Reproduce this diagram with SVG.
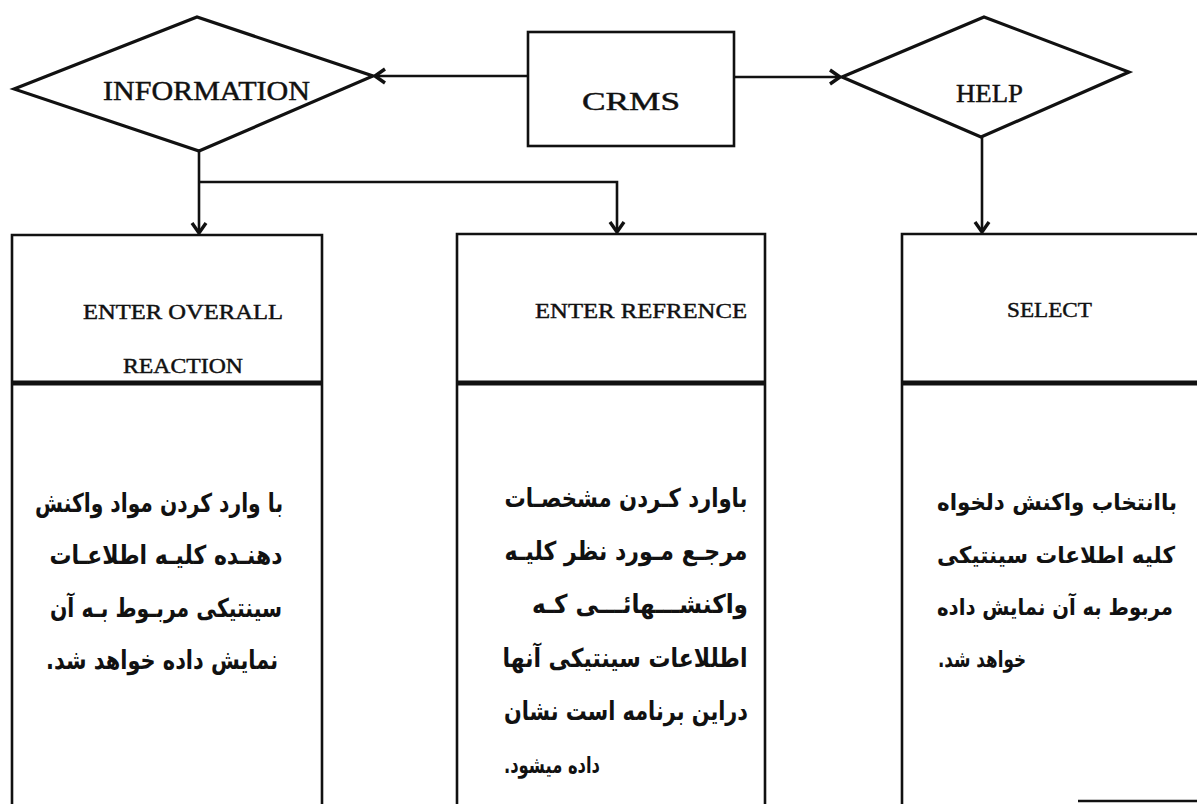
<svg xmlns="http://www.w3.org/2000/svg" width="1197" height="804" viewBox="0 0 1197 804">
<style>
.shape{fill:none;stroke:#111;stroke-width:2.6;stroke-linejoin:miter}
.diam{fill:none;stroke:#111;stroke-width:3.2;stroke-linejoin:miter}
.div{stroke:#111;stroke-width:5}
.conn{fill:none;stroke:#111;stroke-width:2.6}
.en{font-family:"Liberation Serif","DejaVu Serif",serif;fill:#111;stroke:#111;stroke-width:0.45}
.fa{font-family:"DejaVu Sans",sans-serif;font-weight:bold;font-size:26px;fill:#111;direction:rtl;text-anchor:middle}
.fa3{font-family:"DejaVu Sans",sans-serif;font-weight:bold;font-size:23px;fill:#111;direction:rtl;text-anchor:middle}
.fa-left{font-family:"DejaVu Sans",sans-serif;font-weight:bold;font-size:23px;fill:#111;direction:rtl;text-anchor:end}
</style>
<defs>
<marker id="arr" markerUnits="userSpaceOnUse" viewBox="-14 -10 16 20" markerWidth="16" markerHeight="20" refX="0" refY="0" orient="auto">
<path d="M-10,-7 L0,0 L-10,7" fill="none" stroke="#111" stroke-width="3.4"/>
</marker>
</defs>
<rect width="1197" height="804" fill="#fff"/>

<g id="connectors">
<line class="conn" x1="528" y1="76" x2="375" y2="76" marker-end="url(#arr)"/>
<line class="conn" x1="734" y1="77" x2="840" y2="77" marker-end="url(#arr)"/>
<line class="conn" x1="199" y1="151" x2="199" y2="233" marker-end="url(#arr)"/>
<polyline class="conn" points="199,182 617,182 617,232" marker-end="url(#arr)"/>
<line class="conn" x1="982" y1="137" x2="982" y2="232" marker-end="url(#arr)"/>
</g>

<g id="node-information">
<polygon class="diam" points="14,89 197,17 373,76 199,151"/>
<text class="en" x="103" y="100" font-size="27" textLength="207" lengthAdjust="spacingAndGlyphs">INFORMATION</text>
</g>

<g id="node-crms">
<rect class="shape" x="528" y="32" width="206" height="114"/>
<text class="en" x="582" y="110" font-size="26" textLength="98" lengthAdjust="spacingAndGlyphs">CRMS</text>
</g>

<g id="node-help">
<polygon class="diam" points="842,77 984,17 1129,72 981,137"/>
<text class="en" x="956" y="102" font-size="26" textLength="67" lengthAdjust="spacingAndGlyphs">HELP</text>
</g>

<g id="node-enter-overall">
<polyline class="shape" points="12,804 12,235 322,235 322,804"/>
<line class="div" x1="12" y1="383" x2="322" y2="383"/>
<text class="en" x="83" y="319" font-size="21" textLength="200" lengthAdjust="spacingAndGlyphs">ENTER OVERALL</text>
<text class="en" x="123" y="373" font-size="21" textLength="120" lengthAdjust="spacingAndGlyphs">REACTION</text>
<text class="fa" x="159" y="512" textLength="248" lengthAdjust="spacingAndGlyphs">با وارد کردن مواد واکنش</text>
<text class="fa" x="166" y="564" textLength="233" lengthAdjust="spacingAndGlyphs">دهنـده کلیـه اطلاعـات</text>
<text class="fa" x="166" y="617" textLength="232" lengthAdjust="spacingAndGlyphs">سینتیکی مربـوط بـه آن</text>
<text class="fa" x="162" y="669" textLength="232" lengthAdjust="spacingAndGlyphs">نمایش داده خواهد شد.</text>
</g>

<g id="node-enter-refrence">
<polyline class="shape" points="457,804 457,234 765,234 765,804"/>
<line class="div" x1="457" y1="383" x2="765" y2="383"/>
<text class="en" x="535" y="318" font-size="22" textLength="212" lengthAdjust="spacingAndGlyphs">ENTER REFRENCE</text>
<text class="fa" x="626" y="507" textLength="243" lengthAdjust="spacingAndGlyphs">باوارد کـردن مشخصـات</text>
<text class="fa" x="626" y="560" textLength="243" lengthAdjust="spacingAndGlyphs">مرجـع مـورد نظر کلیـه</text>
<text class="fa" x="640" y="613" textLength="216" lengthAdjust="spacingAndGlyphs">واکنشـــهائـــی کـه</text>
<text class="fa" x="625" y="667" textLength="245" lengthAdjust="spacingAndGlyphs">اطللاعات سینتیکی آنها</text>
<text class="fa" x="626" y="720" textLength="244" lengthAdjust="spacingAndGlyphs">دراین برنامه است نشان</text>
<text class="fa-left" x="504" y="773" textLength="96" lengthAdjust="spacingAndGlyphs">داده میشود.</text>
</g>

<g id="node-select">
<polyline class="shape" points="902,804 902,234 1200,234"/>
<line class="div" x1="902" y1="383" x2="1200" y2="383"/>
<line class="shape" x1="1078" y1="801" x2="1197" y2="801"/>
<text class="en" x="1007" y="317" font-size="22" textLength="85" lengthAdjust="spacingAndGlyphs">SELECT</text>
<text class="fa3" x="1057" y="510" textLength="240" lengthAdjust="spacingAndGlyphs">باانتخاب واکنش دلخواه</text>
<text class="fa3" x="1056" y="563" textLength="238" lengthAdjust="spacingAndGlyphs">کلیه اطلاعات سینتیکی</text>
<text class="fa3" x="1055" y="615" textLength="236" lengthAdjust="spacingAndGlyphs">مربوط به آن نمایش داده</text>
<text class="fa-left" x="938" y="667" textLength="88" lengthAdjust="spacingAndGlyphs">خواهد شد.</text>
</g>
</svg>
